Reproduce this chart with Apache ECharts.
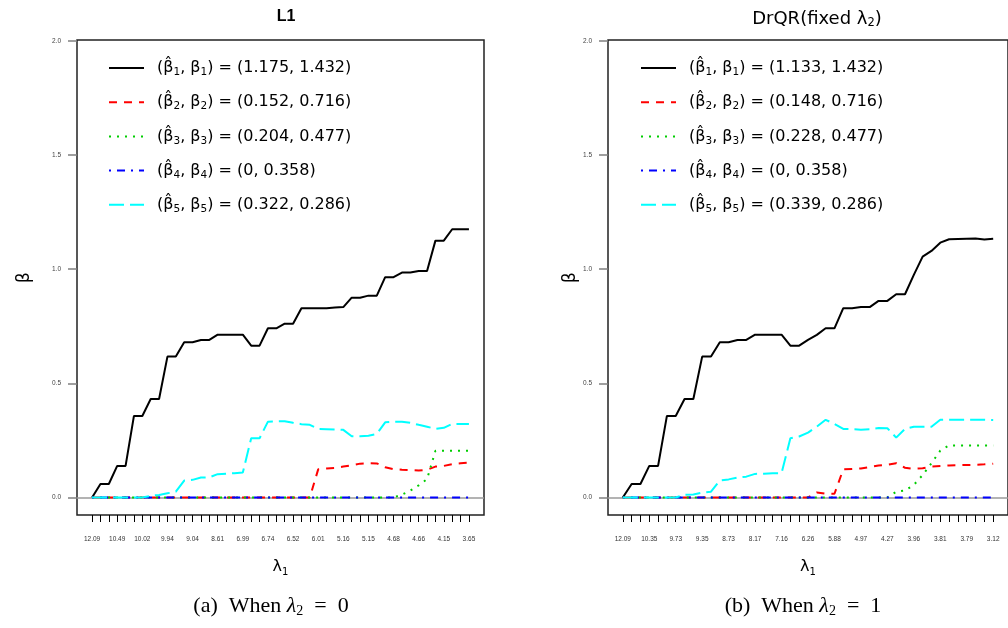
<!DOCTYPE html>
<html>
<head>
<meta charset="utf-8">
<script src="https://cdn.jsdelivr.net/npm/echarts@6/dist/echarts.min.js"></script>
<style>
  html, body { margin: 0; padding: 0; background: #fff; }
  #chart { width: 1008px; height: 628px; }
</style>
</head>
<body>
<div id="chart"></div>
<script>
// lambda_1 tick labels, one every third step
const l1TickLabels = ['12.09', '10.49', '10.02', '9.94', '9.04', '8.61', '6.99', '6.74', '6.52', '6.01', '5.16', '5.15', '4.68', '4.66', '4.15', '3.65'];
const drTickLabels = ['12.09', '10.35', '9.73', '9.35', '8.73', '8.17', '7.16', '6.26', '5.88', '4.97', '4.27', '3.96', '3.81', '3.79', '3.12'];
const yTicks = [0, 0.5, 1, 1.5, 2];

// L1 path (lambda_2 = 0), 46 steps
const l1Beta1 = [0, 0.059, 0.059, 0.138, 0.138, 0.357, 0.357, 0.431, 0.431, 0.617, 0.617, 0.680, 0.680, 0.690, 0.690, 0.713, 0.713, 0.713, 0.713, 0.665, 0.665, 0.741, 0.741, 0.761, 0.761, 0.829, 0.829, 0.829, 0.829, 0.832, 0.834, 0.875, 0.875, 0.884, 0.884, 0.965, 0.965, 0.985, 0.985, 0.992, 0.992, 1.125, 1.125, 1.175, 1.175, 1.175];
const l1Beta2 = [0, 0, 0, 0, 0, 0, 0, 0, 0, 0, 0, 0, 0, 0, 0, 0, 0, 0, 0, 0, 0, 0, 0, 0, 0, 0, 0, 0.123, 0.127, 0.129, 0.135, 0.141, 0.148, 0.150, 0.149, 0.132, 0.124, 0.121, 0.120, 0.118, 0.121, 0.135, 0.138, 0.146, 0.150, 0.152];
const l1Beta3 = [0, 0, 0, 0, 0, 0, 0, 0, 0, 0, 0, 0, 0, 0, 0, 0, 0, 0, 0, 0, 0, 0, 0, 0, 0, 0, 0, 0, 0, 0, 0, 0, 0, 0, 0, 0, 0, 0.012, 0.030, 0.053, 0.080, 0.204, 0.204, 0.204, 0.204, 0.204];
const l1Beta4 = [0, 0, 0, 0, 0, 0, 0, 0, 0, 0, 0, 0, 0, 0, 0, 0, 0, 0, 0, 0, 0, 0, 0, 0, 0, 0, 0, 0, 0, 0, 0, 0, 0, 0, 0, 0, 0, 0, 0, 0, 0, 0, 0, 0, 0, 0];
const l1Beta5 = [0, 0, 0, 0, 0, 0, 0, 0.007, 0.011, 0.018, 0.025, 0.074, 0.077, 0.087, 0.088, 0.102, 0.104, 0.106, 0.109, 0.259, 0.259, 0.332, 0.333, 0.334, 0.327, 0.321, 0.318, 0.300, 0.299, 0.298, 0.296, 0.268, 0.268, 0.270, 0.278, 0.329, 0.332, 0.332, 0.327, 0.318, 0.310, 0.300, 0.305, 0.322, 0.322, 0.322];

// DrQR path (lambda_2 = 1), 43 steps
const drBeta1 = [0, 0.059, 0.059, 0.138, 0.138, 0.357, 0.357, 0.431, 0.431, 0.617, 0.617, 0.680, 0.680, 0.690, 0.690, 0.713, 0.713, 0.713, 0.713, 0.665, 0.665, 0.690, 0.712, 0.741, 0.741, 0.829, 0.829, 0.834, 0.834, 0.861, 0.861, 0.890, 0.890, 0.975, 1.055, 1.080, 1.116, 1.131, 1.132, 1.133, 1.134, 1.130, 1.133];
const drBeta2 = [0, 0, 0, 0, 0, 0, 0, 0, 0, 0, 0, 0, 0, 0, 0, 0, 0, 0, 0, 0, 0, 0, 0.022, 0.016, 0.016, 0.123, 0.125, 0.127, 0.133, 0.140, 0.143, 0.150, 0.130, 0.125, 0.128, 0.135, 0.138, 0.140, 0.141, 0.142, 0.143, 0.145, 0.148];
const drBeta3 = [0, 0, 0, 0, 0, 0, 0, 0, 0, 0, 0, 0, 0, 0, 0, 0, 0, 0, 0, 0, 0, 0, 0, 0, 0, 0, 0, 0, 0, 0, 0, 0.025, 0.030, 0.055, 0.098, 0.150, 0.205, 0.228, 0.228, 0.228, 0.228, 0.228, 0.228];
const drBeta4 = [0, 0, 0, 0, 0, 0, 0, 0, 0, 0, 0, 0, 0, 0, 0, 0, 0, 0, 0, 0, 0, 0, 0, 0, 0, 0, 0, 0, 0, 0, 0, 0, 0, 0, 0, 0, 0, 0, 0, 0, 0, 0, 0];
const drBeta5 = [0, 0, 0, 0, 0, 0, 0, 0.011, 0.013, 0.021, 0.025, 0.074, 0.079, 0.087, 0.091, 0.103, 0.104, 0.106, 0.106, 0.259, 0.267, 0.284, 0.310, 0.340, 0.322, 0.300, 0.299, 0.297, 0.299, 0.304, 0.303, 0.262, 0.300, 0.310, 0.310, 0.310, 0.340, 0.340, 0.340, 0.340, 0.340, 0.340, 0.339];

// legend numbers: (estimate, true value)
const l1Est = ['1.175', '0.152', '0.204', '0', '0.322'];
const drEst = ['1.133', '0.148', '0.228', '0', '0.339'];
const trueBeta = ['1.432', '0.716', '0.477', '0.358', '0.286'];

const colors = ['#000000', '#ff0000', '#00cd00', '#0000ff', '#00ffff'];
const dashes = ['solid', [8, 7], [2, 6], [2, 6, 8, 6], [15, 6]];
const sans = 'Liberation Sans, Arial, Helvetica, sans-serif';
const wide = 'DejaVu Sans, Verdana, sans-serif';
const serif = 'Liberation Serif, Times New Roman, serif';

const chart = echarts.init(document.getElementById('chart'), null, { renderer: 'canvas' });

function range(n, step) {
  const out = [];
  for (let i = 0; i < n; i++) out.push(i * (step || 1));
  return out;
}

function makeSeries(prefix, cols, g) {
  return cols.map((vals, k) => {
    const s = {
      name: prefix + k,
      type: 'line',
      xAxisIndex: g,
      yAxisIndex: g,
      data: vals.map((v, i) => [i, v]),
      symbol: 'none',
      z: k === 0 ? 2 : 3,
      lineStyle: { color: colors[k], width: 2, type: dashes[k] },
      itemStyle: { color: colors[k] },
      animation: false
    };
    if (k === 0) {
      // abline(h = 0)
      s.markLine = {
        silent: true, symbol: 'none', z: 1, animation: false,
        label: { show: false },
        lineStyle: { color: '#9a9a9a', width: 1.5, type: 'solid' },
        data: [{ yAxis: 0 }]
      };
    }
    return s;
  });
}

const richLegend = {
  g: { width: 8 },
  t: { fontFamily: wide, fontSize: 16, lineHeight: 20, color: '#000' },
  s: { fontFamily: wide, fontSize: 10.5, lineHeight: 12, verticalAlign: 'bottom', color: '#000' }
};

function legendFor(prefix, est, left) {
  return {
    data: range(5).map(k => prefix + k),
    orient: 'vertical',
    left: left,
    top: 55,
    itemWidth: 35,
    itemHeight: 14,
    itemGap: 16.2,
    selectedMode: false,
    itemStyle: { color: 'transparent', borderWidth: 0, opacity: 0 },
    lineStyle: { width: 2 },
    textStyle: { rich: richLegend },
    formatter: name => {
      const k = +name.slice(prefix.length);
      const n = k + 1;
      return '{g|}{t|(\u03b2\u0302}{s|' + n + '}{t|, \u03b2}{s|' + n + '}{t|) = (' + est[k] + ', ' + trueBeta[k] + ')}';
    }
  };
}

function xAxisFor(g, n, labels) {
  return {
    gridIndex: g,
    type: 'value',
    min: -(n - 1) * 0.04,
    max: (n - 1) * 1.04,
    axisLine: { show: false, onZero: false },
    splitLine: { show: false },
    axisTick: { show: true, length: 7, lineStyle: { color: '#000', width: 1 }, customValues: range(n) },
    axisLabel: {
      customValues: range(labels.length, 3),
      formatter: v => labels[Math.round(v / 3)],
      fontSize: 6.5, fontFamily: sans, color: '#333', margin: 21
    },
    name: '{l|\u03bb}{s|1}',
    nameLocation: 'middle',
    nameGap: 42,
    nameTextStyle: {
      rich: {
        l: { fontFamily: wide, fontSize: 16, lineHeight: 20, color: '#000' },
        s: { fontFamily: wide, fontSize: 10, lineHeight: 12, verticalAlign: 'bottom', color: '#000' }
      }
    }
  };
}

function yAxisFor(g, gap) {
  return {
    gridIndex: g,
    type: 'value',
    min: -0.077,
    max: 2.004,
    axisLine: { show: false, onZero: false },
    splitLine: { show: false },
    axisTick: { show: true, length: 9, lineStyle: { color: '#808080', width: 1.5 }, customValues: yTicks },
    axisLabel: {
      customValues: yTicks,
      formatter: v => v.toFixed(1),
      fontSize: 6.5, fontFamily: sans, color: '#444', margin: 16
    },
    name: '\u03b2',
    nameLocation: 'middle',
    nameGap: gap,
    nameRotate: 90,
    nameTextStyle: { fontFamily: wide, fontSize: 17, color: '#000' }
  };
}

const gridBox = { show: true, borderColor: '#222', borderWidth: 1.5, backgroundColor: 'transparent', containLabel: false };

function caption(text, x) {
  return {
    text: text, left: x, top: 589, textAlign: 'center',
    textStyle: { fontWeight: 'normal', rich: {
      c: { fontFamily: serif, fontSize: 22, lineHeight: 24, fontWeight: 'normal', color: '#000' },
      m: { fontFamily: serif, fontSize: 22, lineHeight: 24, fontWeight: 'normal', fontStyle: 'italic', color: '#000' },
      s: { fontFamily: serif, fontSize: 14, lineHeight: 15, fontWeight: 'normal', verticalAlign: 'bottom', color: '#000' }
    } }
  };
}

const option = {
  backgroundColor: '#fff',
  animation: false,
  title: [
    { text: 'L1', left: 281, top: 4, textAlign: 'center',
      textStyle: { fontFamily: sans, fontSize: 16, fontWeight: 'bold', color: '#000' } },
    { text: '{t|DrQR(fixed \u03bb}{s|2}{t|)}', left: 812, top: 4, textAlign: 'center',
      textStyle: { fontWeight: 'normal', rich: {
        t: { fontFamily: wide, fontSize: 18, lineHeight: 20, fontWeight: 'normal', color: '#000' },
        s: { fontFamily: wide, fontSize: 11.5, lineHeight: 12, fontWeight: 'normal', verticalAlign: 'bottom', color: '#000' }
      } } },
    caption('{c|(a)  When }{m|\u03bb}{s|2}{c|\u2002=\u20020}', 266),
    caption('{c|(b)  When }{m|\u03bb}{s|2}{c|\u2002=\u20021}', 798)
  ],
  legend: [legendFor('a', l1Est, 103), legendFor('b', drEst, 635)],
  grid: [
    Object.assign({ left: 77, top: 40, width: 407, height: 475 }, gridBox),
    Object.assign({ left: 608, top: 40, width: 407, height: 475 }, gridBox)
  ],
  xAxis: [xAxisFor(0, l1Beta1.length, l1TickLabels), xAxisFor(1, drBeta1.length, drTickLabels)],
  yAxis: [yAxisFor(0, 44), yAxisFor(1, 29)],
  series: [].concat(
    makeSeries('a', [l1Beta1, l1Beta2, l1Beta3, l1Beta4, l1Beta5], 0),
    makeSeries('b', [drBeta1, drBeta2, drBeta3, drBeta4, drBeta5], 1)
  )
};

chart.setOption(option);
</script>
</body>
</html>
